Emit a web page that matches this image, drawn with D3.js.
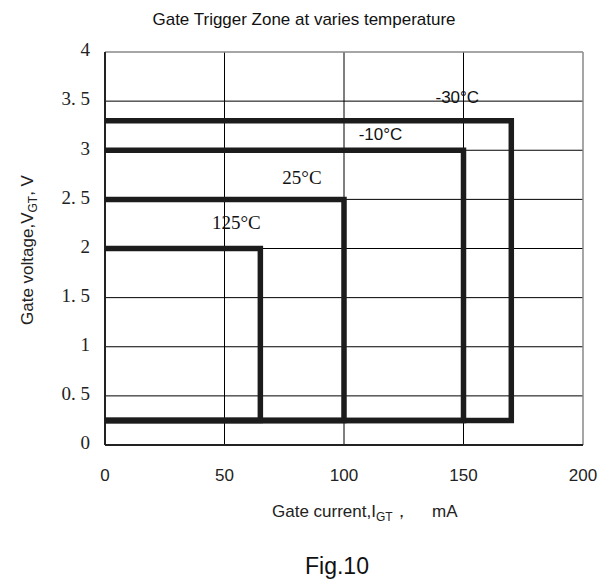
<!DOCTYPE html>
<html><head><meta charset="utf-8">
<script src="https://cdn.jsdelivr.net/npm/d3@7"></script>
<style>body{margin:0;background:#fff}</style>
</head><body>
<svg id="c" width="609" height="580"></svg>
<script>
const xTicks = [0, 50, 100, 150, 200];
const yTicks = [0, 0.5, 1, 1.5, 2, 2.5, 3, 3.5, 4];
const yTickLabels = ["0", "0. 5", "1", "1. 5", "2", "2. 5", "3", "3. 5", "4"];
const temps = ["-30°C", "-10°C", "25°C", "125°C"];
const maxCurrent = [170, 150, 100, 65];
const maxVoltage = [3.3, 3.0, 2.5, 2.0];
const minVoltage = [0.25, 0.25, 0.25, 0.25];

const svg = d3.select("#c");
const x = d3.scaleLinear().domain([0, 200]).range([105, 583]);
const y = d3.scaleLinear().domain([0, 4]).range([445, 52]);

// grid
svg.append("g").selectAll("line").data(xTicks.slice(1, -1)).join("line")
  .attr("x1", d => x(d)).attr("x2", d => x(d)).attr("y1", y(0)).attr("y2", y(4))
  .attr("stroke", "#000").attr("stroke-width", 1);
svg.append("g").selectAll("line").data(yTicks.slice(1, -1)).join("line")
  .attr("x1", x(0)).attr("x2", x(200)).attr("y1", d => y(d)).attr("y2", d => y(d))
  .attr("stroke", "#000").attr("stroke-width", 1);
// frame
svg.append("line").attr("x1", x(0)).attr("x2", x(200)).attr("y1", y(4)).attr("y2", y(4)).attr("stroke", "#888").attr("stroke-width", 1.5);
svg.append("line").attr("x1", x(200)).attr("x2", x(200)).attr("y1", y(4)).attr("y2", y(0)).attr("stroke", "#888").attr("stroke-width", 1.5);
svg.append("line").attr("x1", x(0)).attr("x2", x(200)).attr("y1", y(0)).attr("y2", y(0)).attr("stroke", "#222").attr("stroke-width", 2);
svg.append("line").attr("x1", x(0)).attr("x2", x(0)).attr("y1", y(4)).attr("y2", y(0)).attr("stroke", "#222").attr("stroke-width", 2);

// zones
const zones = temps.map((t, i) => ({t, imax: maxCurrent[i], vmax: maxVoltage[i], vmin: minVoltage[i]}));
svg.append("g").selectAll("path").data(zones).join("path")
  .attr("d", d => d3.line()([[x(0), y(d.vmax)], [x(d.imax), y(d.vmax)], [x(d.imax), y(d.vmin)], [x(0), y(d.vmin)]]))
  .attr("fill", "none").attr("stroke", "#1c1c1c").attr("stroke-width", 5.5).attr("stroke-linejoin", "miter");

// zone labels
const labelOff = [-54, -83, -42, -24];
const labelV = [3.53, 3.15, 2.7, 2.24];
const labelSerif = [false, false, true, true];
svg.append("g").selectAll("text").data(zones).join("text")
  .attr("x", (d, i) => x(d.imax) + labelOff[i])
  .attr("y", (d, i) => y(labelV[i]))
  .attr("dominant-baseline", "middle").attr("text-anchor", "middle")
  .attr("font-family", (d, i) => labelSerif[i] ? "Liberation Serif, Times New Roman, serif" : "Liberation Sans, Arial, sans-serif")
  .attr("font-size", (d, i) => labelSerif[i] ? 19 : 17)
  .attr("fill", "#111")
  .text(d => d.t);

// tick labels
svg.append("g").selectAll("text").data(yTicks).join("text")
  .attr("x", 90).attr("y", d => y(d)).attr("text-anchor", "end").attr("dominant-baseline", "middle")
  .attr("font-family", "Liberation Serif, serif").attr("font-size", 19).attr("fill", "#222")
  .text((d, i) => yTickLabels[i]);
svg.append("g").selectAll("text").data(xTicks).join("text")
  .attr("x", d => x(d)).attr("y", 477).attr("text-anchor", "middle").attr("dominant-baseline", "middle")
  .attr("font-family", "Liberation Sans, Arial, sans-serif").attr("font-size", 17).attr("fill", "#222")
  .text(d => d);

// title
svg.append("text").attr("x", 304).attr("y", 25).attr("text-anchor", "middle")
  .attr("font-family", "Liberation Sans, Arial, sans-serif").attr("font-size", 17).attr("fill", "#111")
  .attr("textLength", 303).attr("lengthAdjust", "spacingAndGlyphs")
  .text("Gate Trigger Zone at varies temperature");

// x label
const xl = svg.append("text").attr("x", 272).attr("y", 517)
  .attr("font-family", "Liberation Sans, Arial, sans-serif").attr("font-size", 17).attr("fill", "#222");
xl.append("tspan").text("Gate current,I");
xl.append("tspan").attr("font-size", 12).attr("dy", 4).text("GT");
xl.append("tspan").attr("dy", -4).text("，");
xl.append("tspan").attr("x", 432).text("mA");

// y label
const yl = svg.append("text").attr("transform", "translate(33,250) rotate(-90)").attr("text-anchor", "middle")
  .attr("font-family", "Liberation Sans, Arial, sans-serif").attr("font-size", 17).attr("fill", "#222");
yl.append("tspan").text("Gate voltage,V");
yl.append("tspan").attr("font-size", 12).attr("dy", 4).text("GT");
yl.append("tspan").attr("dy", -4).text(", V");

// fig caption
svg.append("text").attr("x", 337).attr("y", 574).attr("text-anchor", "middle")
  .attr("font-family", "Liberation Sans, Arial, sans-serif").attr("font-size", 23).attr("fill", "#111")
  .text("Fig.10");
</script>
</body></html>
